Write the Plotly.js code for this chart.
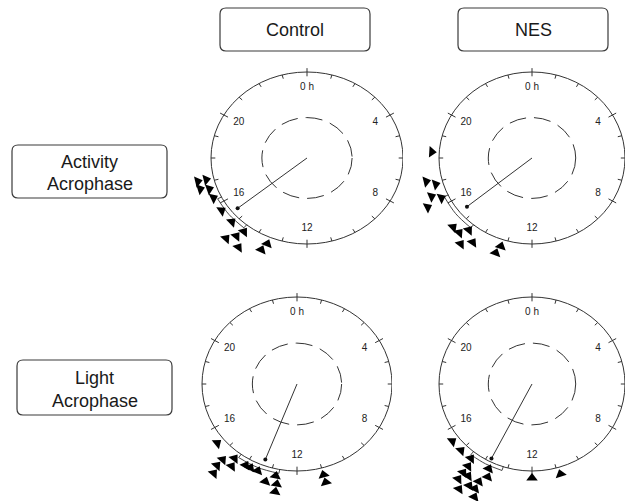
<!DOCTYPE html>
<html><head><meta charset="utf-8">
<script src="https://cdn.plot.ly/plotly-3.0.1.min.js"></script>
<style>html,body{margin:0;padding:0;background:#fff}#chart{width:625px;height:501px}</style>
</head><body><div id="chart"></div>
<script>
const W = 625, H = 501;

// ---- labels ----
const columnLabels = ['Control', 'NES'];
const rowLabels = ['Activity<br>Acrophase', 'Light<br>Acrophase'];
const clockTickHours = [0, 4, 8, 12, 16, 20];
const clockTickLabels = ['0 h', '4', '8', '12', '16', '20'];

// ---- data: individual acrophases (clock hours) and their stacking level ----
const ctrlActivityHours = [17.1, 17.1, 16.8, 16.7, 16.3, 15.7, 15.1, 14.5, 14.8, 14.6, 14.3, 13.6, 13.5];
const ctrlActivityStack = [1, 0, 1, 0, 0, 0, 0, 0, 2, 1, 2, 1, 0];
const ctrlActivityMeanHour = 15.4;
const ctrlActivityMeanLength = 0.93;
const ctrlActivityCI = [14.6, 16.2];

const nesActivityHours = [18.25, 17.1, 16.9, 16.5, 16.2, 16.3, 15.1, 14.8, 14.6, 14.5, 14.2, 13.2, 13.3];
const nesActivityStack = [0, 1, 0, 1, 2, 0, 1, 1, 0, 2, 1, 0, 1];
const nesActivityMeanHour = 15.4;
const nesActivityMeanLength = 0.9;
const nesActivityCI = [14.6, 16.3];

const ctrlLightHours = [15.4, 14.8, 14.8, 14.5, 14.4, 14.7, 14.0, 13.8, 13.5, 13.1, 12.8, 12.7, 12.7, 12.65, 11.0, 11.0];
const ctrlLightStack = [0, 2, 1, 0, 1, 3, 0, 0, 0, 1, 0, 1, 2, 3, 0, 1];
const ctrlLightMeanHour = 13.4;
const ctrlLightMeanLength = 0.93;
const ctrlLightCI = [12.7, 14.4];

const nesLightHours = [15.5, 15.0, 14.5, 14.4, 14.4, 14.4, 14.2, 14.2, 14.0, 13.8, 13.7, 13.8, 13.7, 13.6, 12.0, 10.9];
const nesLightStack = [0, 0, 0, 1, 2, 3, 4, 2, 3, 3, 4, 2, 0, 1, 0, 0];
const nesLightMeanHour = 13.8;
const nesLightMeanLength = 0.96;
const nesLightCI = [13.2, 14.6];

const innerCircleRadius = 0.47;

// ---- panel layout (pixel centre and radii of each clock face) ----
const panels = [
  {hours: ctrlActivityHours, stack: ctrlActivityStack, mean: ctrlActivityMeanHour, len: ctrlActivityMeanLength, ci: ctrlActivityCI, cx: 307, cy: 158, rx: 96, ry: 86},
  {hours: nesActivityHours, stack: nesActivityStack, mean: nesActivityMeanHour, len: nesActivityMeanLength, ci: nesActivityCI, cx: 532, cy: 158, rx: 93, ry: 86},
  {hours: ctrlLightHours, stack: ctrlLightStack, mean: ctrlLightMeanHour, len: ctrlLightMeanLength, ci: ctrlLightCI, cx: 297, cy: 384, rx: 95, ry: 87},
  {hours: nesLightHours, stack: nesLightStack, mean: nesLightMeanHour, len: nesLightMeanLength, ci: nesLightCI, cx: 532, cy: 384, rx: 93, ry: 87}
];
const XR = [-1.3, 1.0], YR = [-1.3, 1.06];

const FONT = 'Arial, "Liberation Sans", sans-serif';
const INK = '#333333';
const rad = h => h * Math.PI / 12;          // clock hour -> radians (clockwise from top)
const px = (h, r) => r * Math.sin(rad(h));   // clock -> axis coordinates
const py = (h, r) => r * Math.cos(rad(h));

const data = [];
const layout = {
  width: W, height: H, margin: {l: 0, r: 0, t: 0, b: 0},
  paper_bgcolor: '#fff', plot_bgcolor: 'rgba(0,0,0,0)', showlegend: false,
  font: {family: FONT, color: '#222'},
  shapes: [], annotations: []
};

panels.forEach((p, i) => {
  const n = i === 0 ? '' : String(i + 1);
  const xa = 'x' + n, ya = 'y' + n;
  layout['xaxis' + n] = {domain: [Math.max(0, (p.cx + XR[0] * p.rx) / W), Math.min(1, (p.cx + XR[1] * p.rx) / W)],
    range: XR, visible: false, anchor: ya, fixedrange: true};
  layout['yaxis' + n] = {domain: [Math.max(0, 1 - (p.cy - YR[0] * p.ry) / H), Math.min(1, 1 - (p.cy - YR[1] * p.ry) / H)],
    range: YR, visible: false, anchor: xa, fixedrange: true};

  // clock face and inner dashed circle
  layout.shapes.push({type: 'circle', xref: xa, yref: ya, x0: -1, x1: 1, y0: -1, y1: 1, line: {color: INK, width: 1}});
  layout.shapes.push({type: 'circle', xref: xa, yref: ya, x0: -innerCircleRadius, x1: innerCircleRadius,
    y0: -innerCircleRadius, y1: innerCircleRadius, line: {color: INK, width: 1, dash: '17px,8px'}});

  // hourly tick marks (inside) and major ticks crossing the circle
  const tx = [], ty = [];
  for (let h = 0; h < 24; h++) {
    const major = clockTickHours.includes(h);
    const r0 = major ? 0.95 : 0.955, r1 = major ? 1.045 : 1.0;
    tx.push(px(h, r0), px(h, r1), null); ty.push(py(h, r0), py(h, r1), null);
  }
  data.push({type: 'scatter', xaxis: xa, yaxis: ya, mode: 'lines', x: tx, y: ty,
    line: {color: INK, width: 1}, cliponaxis: false, hoverinfo: 'skip'});

  // clock labels
  data.push({type: 'scatter', xaxis: xa, yaxis: ya, mode: 'text',
    x: clockTickHours.map(h => px(h, 0.82)), y: clockTickHours.map(h => py(h, 0.82)), text: clockTickLabels,
    textfont: {size: 10, color: '#222', family: FONT}, textposition: 'middle center', cliponaxis: false, hoverinfo: 'skip'});

  // confidence arc: outline band just outside the circle
  const cm = (p.ci[0] + p.ci[1]) / 2, ro = 1.045, ri = 0.995;
  data.push({type: 'scatter', xaxis: xa, yaxis: ya, mode: 'lines',
    x: [px(p.ci[0], ro), px(cm, ro), px(p.ci[1], ro)], y: [py(p.ci[0], ro), py(cm, ro), py(p.ci[1], ro)],
    line: {color: INK, width: 0.9, shape: 'spline'}, cliponaxis: false, hoverinfo: 'skip'});
  data.push({type: 'scatter', xaxis: xa, yaxis: ya, mode: 'lines',
    x: [px(p.ci[0], ri), px(p.ci[0], ro), null, px(p.ci[1], ri), px(p.ci[1], ro)],
    y: [py(p.ci[0], ri), py(p.ci[0], ro), null, py(p.ci[1], ri), py(p.ci[1], ro)],
    line: {color: INK, width: 0.9}, cliponaxis: false, hoverinfo: 'skip'});

  // mean vector
  data.push({type: 'scatter', xaxis: xa, yaxis: ya, mode: 'lines',
    x: [0, px(p.mean, p.len)], y: [0, py(p.mean, p.len)],
    line: {color: INK, width: 1}, cliponaxis: false, hoverinfo: 'skip'});
  data.push({type: 'scatter', xaxis: xa, yaxis: ya, mode: 'markers',
    x: [px(p.mean, p.len)], y: [py(p.mean, p.len)],
    marker: {size: 4, color: '#111'}, cliponaxis: false, hoverinfo: 'skip'});

  // individual acrophases
  const rr = p.stack.map(s => 1.08 + 0.09 * s);
  data.push({type: 'scatter', xaxis: xa, yaxis: ya, mode: 'markers',
    x: p.hours.map((h, k) => px(h, rr[k])), y: p.hours.map((h, k) => py(h, rr[k])),
    marker: {symbol: 'triangle-up', size: 10, color: '#000', angle: p.hours.map(h => h * 15 + 180), line: {width: 0}},
    cliponaxis: false, hoverinfo: 'skip'});
});

// rounded label boxes
function rbox(x0, y0, x1, y1, r) {
  const X = x => (x / W).toFixed(5), Y = y => (1 - y / H).toFixed(5);
  return `M${X(x0 + r)},${Y(y0)} L${X(x1 - r)},${Y(y0)} Q${X(x1)},${Y(y0)} ${X(x1)},${Y(y0 + r)} ` +
    `L${X(x1)},${Y(y1 - r)} Q${X(x1)},${Y(y1)} ${X(x1 - r)},${Y(y1)} L${X(x0 + r)},${Y(y1)} ` +
    `Q${X(x0)},${Y(y1)} ${X(x0)},${Y(y1 - r)} L${X(x0)},${Y(y0 + r)} Q${X(x0)},${Y(y0)} ${X(x0 + r)},${Y(y0)} Z`;
}
const boxes = [
  {text: columnLabels[0], x0: 220, y0: 8, x1: 370, y1: 51, lineY: [30]},
  {text: columnLabels[1], x0: 458, y0: 8, x1: 608, y1: 51, lineY: [30]},
  {text: rowLabels[0], x0: 12, y0: 145, x1: 167, y1: 198, lineY: [162, 184]},
  {text: rowLabels[1], x0: 17, y0: 360, x1: 172, y1: 415, lineY: [378, 401]}
];
boxes.forEach(b => {
  layout.shapes.push({type: 'path', xref: 'paper', yref: 'paper', path: rbox(b.x0, b.y0, b.x1, b.y1, 6),
    line: {color: '#3a3a3a', width: 1.2}, fillcolor: '#fff', layer: 'below'});
  b.text.split('<br>').forEach((t, k) => {
    layout.annotations.push({xref: 'paper', yref: 'paper', x: (b.x0 + b.x1) / 2 / W, y: 1 - b.lineY[k] / H,
      text: t, showarrow: false, xanchor: 'center', yanchor: 'middle',
      font: {family: FONT, size: 18, color: '#1a1a1a'}});
  });
});

Plotly.newPlot('chart', data, layout, {staticPlot: true, displayModeBar: false});
</script>
</body></html>
